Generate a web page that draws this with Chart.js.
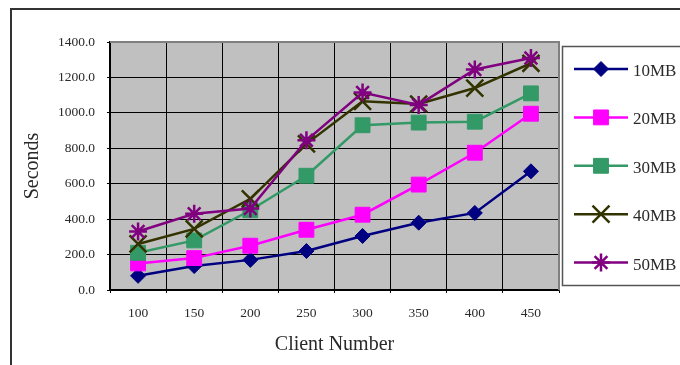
<!DOCTYPE html>
<html>
<head>
<meta charset="utf-8">
<script src="https://cdn.jsdelivr.net/npm/chart.js@4/dist/chart.umd.min.js"></script>
<style>
  html, body { margin: 0; padding: 0; background: #ffffff; }
  #wrap { width: 680px; height: 365px; position: relative; }
</style>
</head>
<body>
<div id="wrap"><canvas id="c" width="680" height="365"></canvas></div>
<script>
// Response time (seconds) by number of clients, per file size
const clients = ['100', '150', '200', '250', '300', '350', '400', '450'];
const mb10 = [80, 135, 170, 220, 305, 380, 435, 670];
const mb20 = [150, 180, 250, 340, 425, 595, 775, 995];
const mb30 = [210, 280, 450, 645, 930, 945, 950, 1110];
const mb40 = [260, 345, 515, 825, 1065, 1050, 1140, 1280];
const mb50 = [330, 430, 460, 845, 1115, 1045, 1245, 1310];
const seriesNames = ['10MB', '20MB', '30MB', '40MB', '50MB'];

const SERIF = "'Liberation Serif', 'Times New Roman', serif";
const TEXT = '#2a2a2a';

function series(label, data, color, style, radius, bw, order) {
  return {
    label, data,
    borderColor: color,
    backgroundColor: color,
    borderWidth: 2.5,
    pointStyle: style,
    pointRadius: radius,
    pointHoverRadius: radius,
    pointBackgroundColor: color,
    pointBorderColor: color,
    pointBorderWidth: bw,
    tension: 0,
    fill: false,
    order
  };
}

// plot background, outer frame and a boxed legend with line + marker samples
const decor = {
  id: 'decor',
  beforeDraw(chart) {
    const { ctx, chartArea: a } = chart;
    ctx.save();
    ctx.fillStyle = '#c0c0c0';
    ctx.fillRect(a.left, a.top, a.right - a.left, a.bottom - a.top);
    // outer frame
    ctx.strokeStyle = '#333333';
    ctx.lineWidth = 2;
    ctx.beginPath();
    ctx.moveTo(11, 370);
    ctx.lineTo(11, 9);
    ctx.lineTo(690, 9);
    ctx.stroke();
    ctx.restore();
  },
  afterDatasetsDraw(chart) {
    const { ctx, chartArea: a } = chart;
    ctx.save();
    ctx.strokeStyle = '#808080';
    ctx.lineWidth = 2;
    ctx.beginPath();
    ctx.moveTo(a.left, a.top);
    ctx.lineTo(a.right, a.top);
    ctx.lineTo(a.right, a.bottom);
    ctx.stroke();
    ctx.restore();
  },
  afterDraw(chart) {
    const { ctx } = chart;
    ctx.save();
    ctx.strokeStyle = '#555555';
    ctx.lineWidth = 1.5;
    ctx.strokeRect(562.5, 46.5, 140, 239);
    chart.data.datasets.forEach((ds, i) => {
      const y = 69 + i * 48.4;
      ctx.strokeStyle = ds.borderColor;
      ctx.lineWidth = ds.borderWidth;
      ctx.beginPath();
      ctx.moveTo(574, y);
      ctx.lineTo(628, y);
      ctx.stroke();
      ctx.fillStyle = ds.pointBackgroundColor;
      ctx.strokeStyle = ds.pointBorderColor;
      ctx.lineWidth = ds.pointBorderWidth;
      Chart.helpers.drawPoint(ctx, {
        pointStyle: ds.pointStyle,
        radius: ds.pointRadius,
        borderWidth: ds.pointBorderWidth,
        rotation: 0
      }, 601, y);
      ctx.fillStyle = TEXT;
      ctx.font = '17px ' + SERIF;
      ctx.textAlign = 'left';
      ctx.textBaseline = 'middle';
      ctx.fillText(ds.label, 633, y + 2.5);
    });
    ctx.restore();
  }
};

new Chart(document.getElementById('c'), {
  type: 'line',
  data: {
    labels: clients,
    datasets: [
      series(seriesNames[0], mb10, '#000080', 'rectRot', 7.5, 1, 5),
      series(seriesNames[1], mb20, '#ff00ff', 'rect', 10.5, 1, 4),
      series(seriesNames[2], mb30, '#339966', 'rect', 10.5, 1, 3),
      series(seriesNames[3], mb40, '#333300', 'crossRot', 12, 2.5, 2),
      series(seriesNames[4], mb50, '#800080', 'star', 9, 2.5, 1)
    ]
  },
  options: {
    responsive: false,
    animation: false,
    events: [],
    layout: { padding: { top: 42, right: 121, bottom: 0, left: 0 } },
    plugins: { legend: { display: false }, tooltip: { enabled: false } },
    scales: {
      x: {
        offset: true,
        afterFit(s) { s.height = 75; },
        grid: { offset: true, color: '#000000', lineWidth: 1, drawTicks: true, tickLength: 3 },
        border: { color: '#000000', width: 1.5 },
        ticks: { color: TEXT, font: { family: SERIF, size: 13.5 }, padding: 12, maxRotation: 0 },
        title: {
          display: true, text: 'Client Number', color: TEXT,
          font: { family: SERIF, size: 20 }, padding: { top: 0, bottom: 8 }
        }
      },
      y: {
        min: 0, max: 1400,
        afterFit(s) { s.width = 110; },
        grid: { color: '#000000', lineWidth: 1, drawTicks: true, tickLength: 3 },
        border: { color: '#000000', width: 1.5 },
        ticks: {
          stepSize: 200, color: TEXT, padding: 12,
          font: { family: SERIF, size: 13.5 },
          callback: v => v.toFixed(1)
        },
        title: {
          display: true, text: 'Seconds', color: TEXT,
          font: { family: SERIF, size: 20 }, padding: { top: 21, bottom: 0 }
        }
      }
    }
  },
  plugins: [decor]
});
</script>
</body>
</html>
